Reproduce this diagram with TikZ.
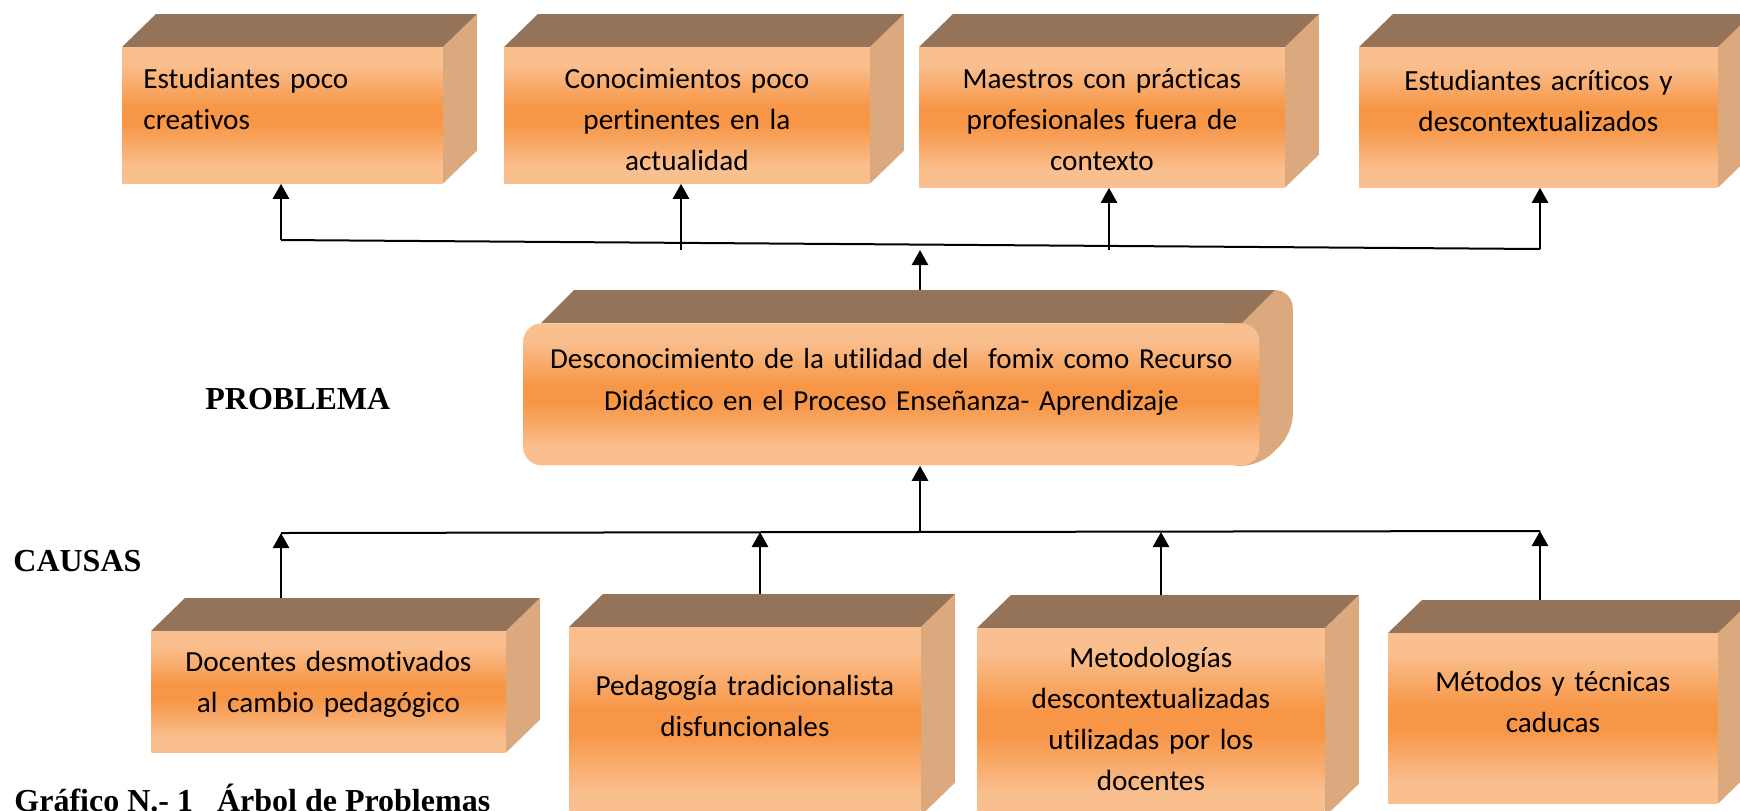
\documentclass[tikz,border=0pt]{standalone}
\usepackage{fontspec}
\setmainfont{Carlito}[Ligatures=NoCommon]
\newfontfamily\tiempos{Liberation Serif}
\usepackage{tikz}
\usetikzlibrary{arrows.meta,backgrounds}
\definecolor{clarito}{RGB}{250,191,143}
\definecolor{naranja}{RGB}{247,150,70}
\definecolor{techo}{RGB}{148,115,88}
\definecolor{lado}{RGB}{220,169,126}
\pgfdeclareverticalshading{degradado}{100bp}{color(0bp)=(clarito); color(31bp)=(clarito); color(47bp)=(naranja); color(53bp)=(naranja); color(69bp)=(clarito); color(100bp)=(clarito)}
\newcommand{\cuerpo}{\fontsize{14.6pt}{20.5pt}\selectfont}
\newcommand{\caja}[1]{%
  \begin{scope}[on background layer]
    \fill[lado] (#1.north east) -- ++(34,-33) -- ([shift={(34,-33)}]#1.south east) -- (#1.south east) -- cycle;
    \fill[techo] (#1.north west) -- ++(34,-33) -- ([shift={(34,-33)}]#1.north east) -- (#1.north east) -- cycle;
  \end{scope}}

\begin{document}
\begin{tikzpicture}[x=0.5pt, y=-0.5pt,
  efecto/.style={inner sep=0pt, shading=degradado, align=center, font=\cuerpo, anchor=north west},
  rotulo/.style={inner sep=0pt, anchor=base west, font=\tiempos\bfseries\fontsize{16pt}{19pt}\selectfont},
  linea/.style={line width=1pt},
  flecha/.style={line width=1.3pt, -{Triangle[length=7.5pt,width=8pt]}}]
\useasboundingbox (0,0) rectangle (1740,810);
% efectos
\node at (122,47) [efecto, align=left, inner xsep=10.5pt, text width=139pt, text height=20.5pt, text depth=47.5pt] (E1) {Estudiantes poco\\creativos};
\node at (504,47) [efecto, text width=182.5pt, text height=20.5pt, text depth=47.5pt] (E2) {Conocimientos poco\\pertinentes en la\\actualidad};
\node at (919,47) [efecto, text width=182.5pt, text height=20.5pt, text depth=49.5pt] (E3) {Maestros con prácticas\\profesionales fuera de\\contexto};
\node at (1359,47) [efecto, text width=179pt, text height=21.5pt, text depth=48.5pt] (E4) {Estudiantes acríticos y\\descontextualizados};
\caja{E1} \caja{E2} \caja{E3} \caja{E4}
% problema
\node at (523,323) [efecto, rounded corners=9pt, text width=368pt, text height=22.5pt, text depth=48.5pt, font=\fontsize{14.5pt}{21pt}\selectfont] (P) {Desconocimiento de la utilidad del\ \ fomix como Recurso\\Didáctico en el Proceso Enseñanza- Aprendizaje};
\begin{scope}[on background layer]
\fill[lado, rounded corners=9pt] ([shift={(-40,0)}]P.north east) -- ([shift={(-10,-33)}]P.north east) -- ([shift={(33,-33)}]P.north east) -- ([shift={(33,-33)}]P.south east) -- (P.south east) -- ([shift={(-40,0)}]P.south east) -- cycle;
\fill[techo] ([shift={(18,0)}]P.north west) -- ([shift={(51,-33)}]P.north west) -- ([shift={(15,-33)}]P.north east) -- ([shift={(-18,0)}]P.north east) -- cycle;
\end{scope}
% causas
\node at (151,631) [efecto, text width=177pt, text height=20pt, text depth=40.5pt] (C1) {Docentes desmotivados\\al cambio pedagógico};
\node at (569,627) [efecto, text width=175.5pt, text height=34pt, text depth=60pt] (C2) {Pedagogía tradicionalista\\disfuncionales};
\node at (977,628) [efecto, text width=173.5pt, text height=19.5pt, text depth=74.5pt] (C3) {Metodologías\\descontextualizadas\\utilizadas por los\\docentes};
\node at (1388,633) [efecto, text width=164.5pt, text height=29pt, text depth=56pt] (C4) {Métodos y técnicas\\caducas};
\caja{C1} \caja{C2} \caja{C3} \caja{C4}
% rotulos
\node at (205,409) [rotulo] (problema) {PROBLEMA};
\node at (13,571) [rotulo] (causas) {CAUSAS};
\node at (14,811) [rotulo] (grafico) {Gráfico N.- 1\ \ \ Árbol de Problemas};
% conectores de arriba
\coordinate (a1) at (281,240);
\coordinate (a2) at (681,250);
\coordinate (a3) at (1109,250);
\coordinate (a4) at (1540,249);
\coordinate (ap) at (920,250);
\coordinate (pt) at (920,290);
\draw [linea] (a1) -- (a4);
\draw [flecha] (a1) -- (a1 |- E1.south);
\draw [flecha] (a2) -- (a2 |- E2.south);
\draw [flecha] (a3) -- (a3 |- E3.south);
\draw [flecha] (a4) -- (a4 |- E4.south);
\draw [flecha] (pt) -- (ap);
% conectores de abajo
\coordinate (b1) at (281,533);
\coordinate (b2) at (760,532);
\coordinate (b3) at (1161,532);
\coordinate (b4) at (1540,531);
\coordinate (bp) at (920,532);
\draw [linea] (b1) -- (b4);
\draw [flecha] ([yshift=16.5pt]b1 |- C1.north) -- (b1);
\draw [flecha] ([yshift=16.5pt]b2 |- C2.north) -- (b2);
\draw [flecha] ([yshift=16.5pt]b3 |- C3.north) -- (b3);
\draw [flecha] ([yshift=16.5pt]b4 |- C4.north) -- (b4);
\draw [flecha] (bp) -- (bp |- P.south);
\end{tikzpicture}
\end{document}
